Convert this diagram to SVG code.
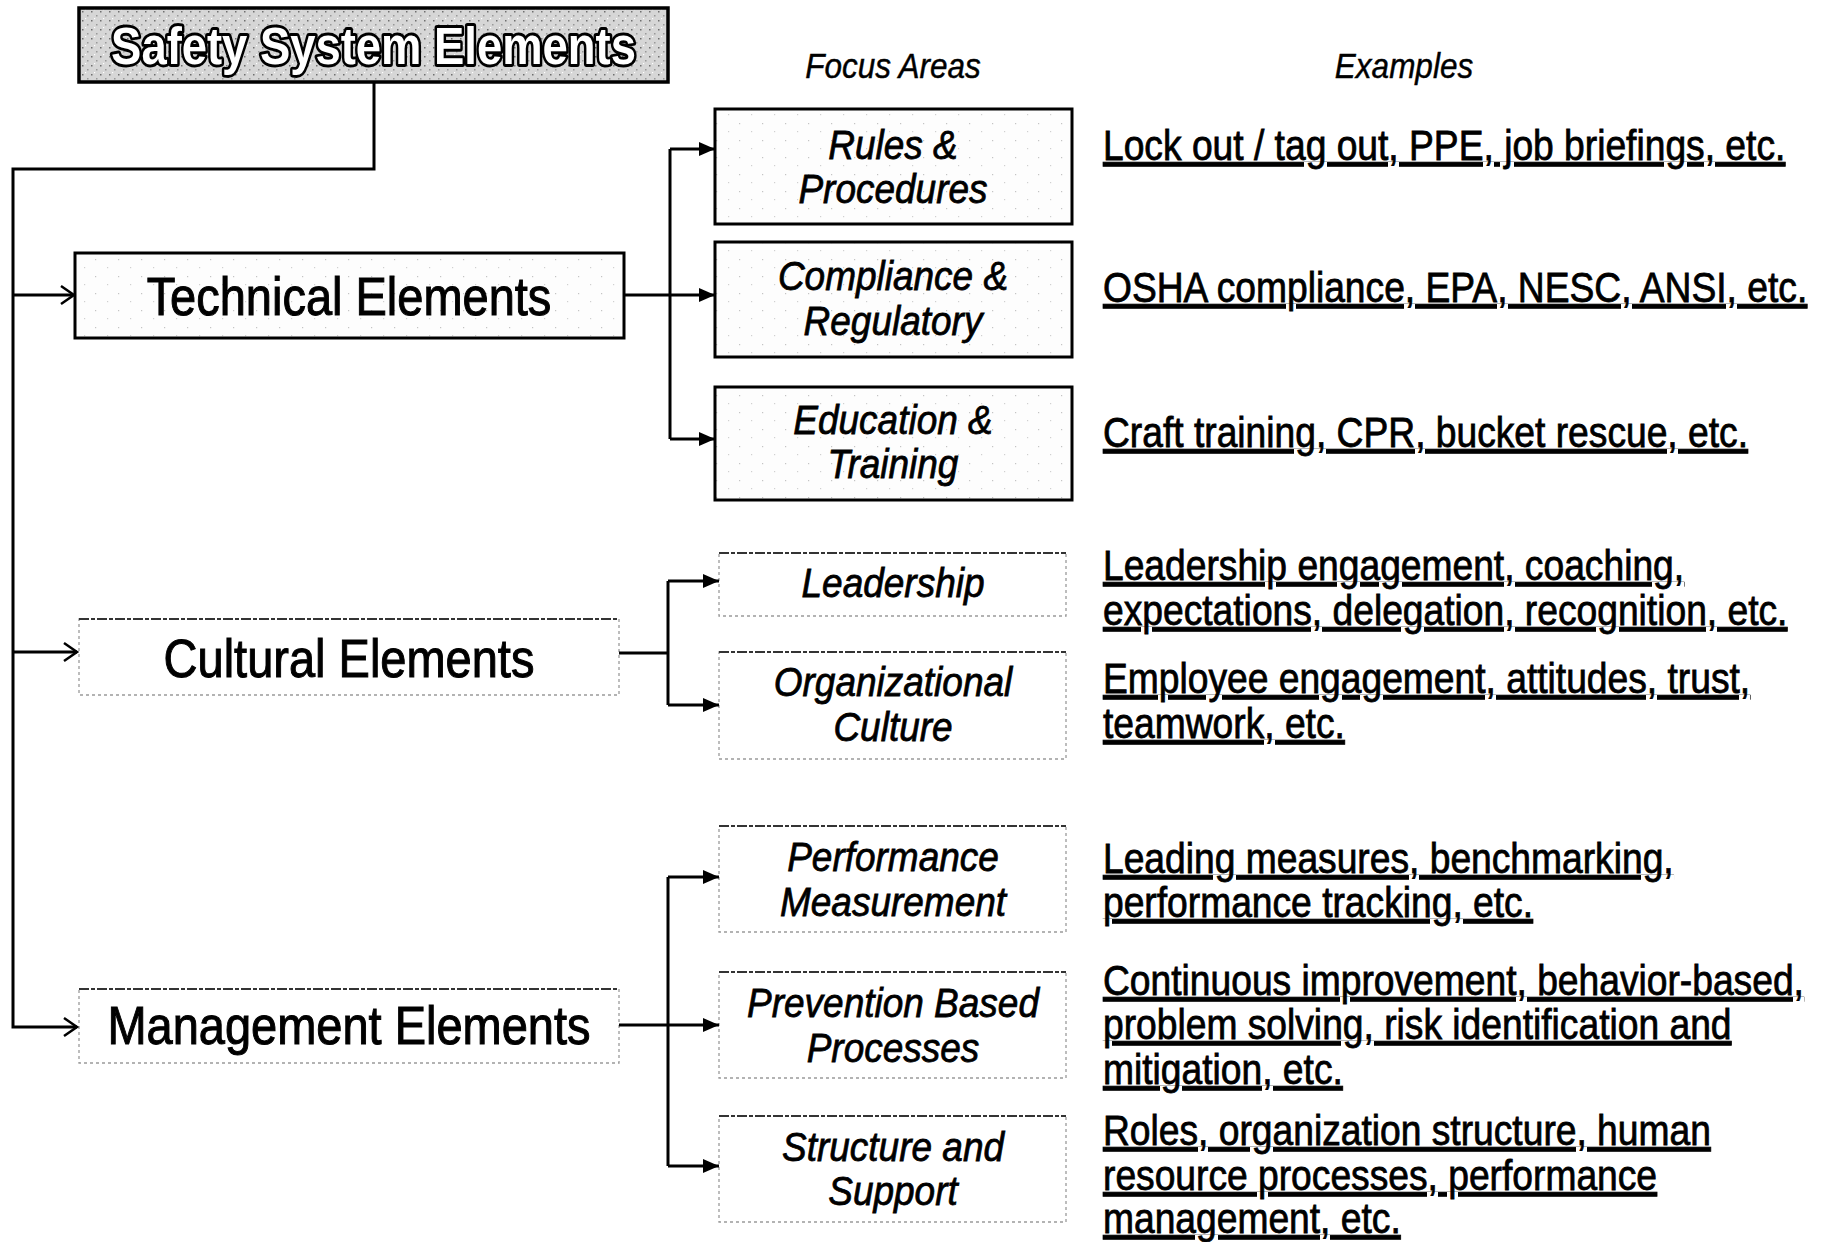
<svg xmlns="http://www.w3.org/2000/svg" width="1829" height="1242" viewBox="0 0 1829 1242">
  <style>
    text { font-family: "Liberation Sans", Arial, sans-serif; fill: #000; }
    .title { font-size: 45.4px; font-weight: bold; fill: #fff; stroke: #000; stroke-width: 5px; paint-order: stroke; stroke-linejoin: round; }
    .elem { font-size: 47px; text-anchor: middle; stroke: #000; stroke-width: 0.9px; }
    .focus { font-size: 37px; font-style: italic; text-anchor: middle; stroke: #000; stroke-width: 0.7px; }
    .head { font-size: 31.5px; font-style: italic; text-anchor: middle; stroke: #000; stroke-width: 0.4px; }
    .ex { font-size: 37.2px; text-decoration: underline; stroke: #000; stroke-width: 0.7px; }
    .solid { fill: url(#speck); stroke: #000; stroke-width: 3; }
    .dotted { fill: #fff; stroke: #9a9a9a; stroke-width: 1.3; stroke-dasharray: 3 3; }
    .edge { fill: none; stroke: #333; stroke-width: 1.8; stroke-dasharray: 10 2 4 2; }
    .wire { fill: none; stroke: #000; stroke-width: 3; }
    .open { fill: none; stroke: #000; stroke-width: 2.5; }
  </style>
  <defs>
    <pattern id="grain" width="9" height="9" patternUnits="userSpaceOnUse">
      <rect width="9" height="9" fill="#d6d6d6"/>
      <rect x="1" y="2" width="1.5" height="1.5" fill="#6f6f6f"/>
      <rect x="6" y="6" width="1.5" height="1.5" fill="#999"/>
      <rect x="4" y="0" width="1.2" height="1.2" fill="#fff"/>
    </pattern>
    <pattern id="speck" width="23" height="17" patternUnits="userSpaceOnUse">
      <rect width="23" height="17" fill="#fdfdfd"/>
      <rect x="3" y="4" width="1.2" height="1.2" fill="#c4c4c4"/>
      <rect x="15" y="12" width="1.2" height="1.2" fill="#d0d0d0"/>
    </pattern>
    <marker id="tri" markerUnits="userSpaceOnUse" markerWidth="18" markerHeight="14" refX="16" refY="7" orient="auto">
      <path d="M0,0 L16,7 L0,14 Z" fill="#000"/>
    </marker>
  </defs>

  <!-- top level -->
  <g id="safety-system-elements">
    <rect x="79" y="8" width="589" height="74" fill="url(#grain)" stroke="#000" stroke-width="3.5"/>
    <text class="title" text-anchor="middle" transform="matrix(1 0 0 1.16 373.5 64)">Safety System Elements</text>
  </g>

  <!-- column headers -->
  <g id="headers">
    <text class="head" transform="matrix(1 0 0 1.1 893 78)">Focus Areas</text>
    <text class="head" transform="matrix(1 0 0 1.1 1404 78)">Examples</text>
  </g>

  <!-- element groups -->
  <g id="technical-elements">
    <rect class="solid" x="75" y="253" width="549" height="85"/>
    <text class="elem" transform="matrix(1 0 0 1.14 349 315)">Technical Elements</text>
  </g>
  <g id="cultural-elements">
    <rect class="dotted" x="79" y="619" width="540" height="76"/>
    <path class="edge" d="M79,619 H619"/>
    <text class="elem" transform="matrix(1 0 0 1.14 349 677)">Cultural Elements</text>
  </g>
  <g id="management-elements">
    <rect class="dotted" x="79" y="989" width="540" height="74"/>
    <path class="edge" d="M79,989 H619"/>
    <text class="elem" transform="matrix(1 0 0 1.14 349 1044)">Management Elements</text>
  </g>

  <!-- focus areas -->
  <g id="rules-procedures">
    <rect class="solid" x="715" y="109" width="357" height="115"/>
    <text class="focus" transform="matrix(1 0 0 1.12 893 159)">Rules &amp;</text>
    <text class="focus" transform="matrix(1 0 0 1.12 893 203)">Procedures</text>
  </g>
  <g id="compliance-regulatory">
    <rect class="solid" x="715" y="242" width="357" height="115"/>
    <text class="focus" transform="matrix(1 0 0 1.12 893 290)">Compliance &amp;</text>
    <text class="focus" transform="matrix(1 0 0 1.12 893 335)">Regulatory</text>
  </g>
  <g id="education-training">
    <rect class="solid" x="715" y="387" width="357" height="113"/>
    <text class="focus" transform="matrix(1 0 0 1.12 893 434)">Education &amp;</text>
    <text class="focus" transform="matrix(1 0 0 1.12 893 478)">Training</text>
  </g>
  <g id="leadership">
    <rect class="dotted" x="719" y="553" width="347" height="63"/>
    <path class="edge" d="M719,553 H1066"/>
    <text class="focus" transform="matrix(1 0 0 1.12 893 597)">Leadership</text>
  </g>
  <g id="organizational-culture">
    <rect class="dotted" x="719" y="652" width="347" height="107"/>
    <path class="edge" d="M719,652 H1066"/>
    <text class="focus" transform="matrix(1 0 0 1.12 893 696)">Organizational</text>
    <text class="focus" transform="matrix(1 0 0 1.12 893 741)">Culture</text>
  </g>
  <g id="performance-measurement">
    <rect class="dotted" x="719" y="826" width="347" height="106"/>
    <path class="edge" d="M719,826 H1066"/>
    <text class="focus" transform="matrix(1 0 0 1.12 893 871)">Performance</text>
    <text class="focus" transform="matrix(1 0 0 1.12 893 916)">Measurement</text>
  </g>
  <g id="prevention-based-processes">
    <rect class="dotted" x="719" y="972" width="347" height="106"/>
    <path class="edge" d="M719,972 H1066"/>
    <text class="focus" transform="matrix(1 0 0 1.12 893 1017)">Prevention Based</text>
    <text class="focus" transform="matrix(1 0 0 1.12 893 1062)">Processes</text>
  </g>
  <g id="structure-support">
    <rect class="dotted" x="719" y="1116" width="347" height="106"/>
    <path class="edge" d="M719,1116 H1066"/>
    <text class="focus" transform="matrix(1 0 0 1.12 893 1161)">Structure and</text>
    <text class="focus" transform="matrix(1 0 0 1.12 893 1205)">Support</text>
  </g>

  <!-- examples -->
  <g id="examples">
    <text class="ex" transform="matrix(1 0 0 1.13 1103 160)">Lock out / tag out, PPE, job briefings, etc.</text>
    <text class="ex" transform="matrix(1 0 0 1.13 1103 302)">OSHA compliance, EPA, NESC, ANSI, etc.</text>
    <text class="ex" transform="matrix(1 0 0 1.13 1103 447)">Craft training, CPR, bucket rescue, etc.</text>
    <text class="ex" transform="matrix(1 0 0 1.13 1103 580)">Leadership engagement, coaching,</text>
    <text class="ex" transform="matrix(1 0 0 1.13 1103 625)">expectations, delegation, recognition, etc.</text>
    <text class="ex" transform="matrix(1 0 0 1.13 1103 693)">Employee engagement, attitudes, trust,</text>
    <text class="ex" transform="matrix(1 0 0 1.13 1103 738)">teamwork, etc.</text>
    <text class="ex" transform="matrix(1 0 0 1.13 1103 873)">Leading measures, benchmarking,</text>
    <text class="ex" transform="matrix(1 0 0 1.13 1103 917)">performance tracking, etc.</text>
    <text class="ex" transform="matrix(1 0 0 1.13 1103 995)">Continuous improvement, behavior-based,</text>
    <text class="ex" transform="matrix(1 0 0 1.13 1103 1039)">problem solving, risk identification and</text>
    <text class="ex" transform="matrix(1 0 0 1.13 1103 1084)">mitigation, etc.</text>
    <text class="ex" transform="matrix(1 0 0 1.13 1103 1145)">Roles, organization structure, human</text>
    <text class="ex" transform="matrix(1 0 0 1.13 1103 1190)">resource processes, performance</text>
    <text class="ex" transform="matrix(1 0 0 1.13 1103 1233)">management, etc.</text>
  </g>

  <!-- connectors -->
  <g id="connectors">
    <!-- trunk from the top box down the left edge -->
    <path class="wire" d="M374,82 V169 H13 V1027 H77"/>
    <path class="wire" d="M13,295 H73"/>
    <path class="wire" d="M13,652 H77"/>
    <path class="open" d="M61,286 L74,295 L61,304"/>
    <path class="open" d="M64,643 L77,652 L64,661"/>
    <path class="open" d="M64,1018 L77,1027 L64,1036"/>

    <!-- technical branch -->
    <path class="wire" d="M624,295 H670"/>
    <path class="wire" d="M670,149 V439"/>
    <path class="wire" d="M670,149 H715" marker-end="url(#tri)"/>
    <path class="wire" d="M670,295 H715" marker-end="url(#tri)"/>
    <path class="wire" d="M670,439 H715" marker-end="url(#tri)"/>

    <!-- cultural branch -->
    <path class="wire" d="M619,653 H668"/>
    <path class="wire" d="M668,581 V705"/>
    <path class="wire" d="M668,581 H719" marker-end="url(#tri)"/>
    <path class="wire" d="M668,705 H719" marker-end="url(#tri)"/>

    <!-- management branch -->
    <path class="wire" d="M668,877 V1166"/>
    <path class="wire" d="M668,877 H719" marker-end="url(#tri)"/>
    <path class="wire" d="M619,1025 H719" marker-end="url(#tri)"/>
    <path class="wire" d="M668,1166 H719" marker-end="url(#tri)"/>
  </g>
</svg>
